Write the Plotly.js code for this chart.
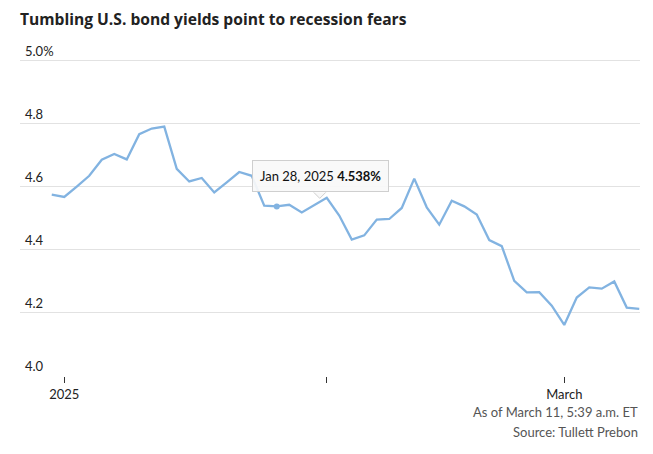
<!DOCTYPE html>
<html>
<head>
<meta charset="utf-8">
<script src="https://cdn.plot.ly/plotly-3.0.1.min.js"></script>
<style>
  html, body { margin: 0; padding: 0; background: #fff; }
  #chart { width: 653px; height: 454px; }
</style>
</head>
<body>
<div id="chart"></div>
<script>
// trading days, Dec 31 2024 .. Mar 11 2025
var dates = [
  'Dec 31', 'Jan 2', 'Jan 3', 'Jan 6', 'Jan 7', 'Jan 8', 'Jan 9', 'Jan 10',
  'Jan 13', 'Jan 14', 'Jan 15', 'Jan 16', 'Jan 17', 'Jan 21', 'Jan 22', 'Jan 23',
  'Jan 24', 'Jan 27', 'Jan 28', 'Jan 29', 'Jan 30', 'Jan 31', 'Feb 3', 'Feb 4',
  'Feb 5', 'Feb 6', 'Feb 7', 'Feb 10', 'Feb 11', 'Feb 12', 'Feb 13', 'Feb 14',
  'Feb 18', 'Feb 19', 'Feb 20', 'Feb 21', 'Feb 24', 'Feb 25', 'Feb 26', 'Feb 27',
  'Feb 28', 'Mar 3', 'Mar 4', 'Mar 5', 'Mar 6', 'Mar 7', 'Mar 10', 'Mar 11'
]
// 10-year yield, %
var yields = [
  4.575, 4.568, 4.601, 4.635, 4.686, 4.704, 4.687, 4.767,
  4.785, 4.791, 4.657, 4.617, 4.628, 4.582, 4.614, 4.647,
  4.635, 4.540, 4.538, 4.543, 4.519, 4.543, 4.565, 4.509,
  4.433, 4.446, 4.496, 4.498, 4.533, 4.626, 4.535, 4.480,
  4.556, 4.538, 4.512, 4.431, 4.412, 4.302, 4.265, 4.266,
  4.223, 4.162, 4.249, 4.281, 4.277, 4.300, 4.217, 4.213
]
var xTickVals = ['Jan 2', 'Feb 3', 'Mar 3']
var xTickText = ['2025', '', 'March']
var yTickVals = [4.0, 4.2, 4.4, 4.6, 4.8, 5.0]
var yTickText = ['4.0', '4.2', '4.4', '4.6', '4.8', '5.0%']

var hoverIdx = dates.indexOf('Jan 28')
var lineColor = '#82b3e1'

var trace1 = {
  type: 'scatter',
  mode: 'lines',
  x: dates,
  y: yields,
  line: { color: lineColor, width: 2.3 },
  hoverinfo: 'skip'
}

var trace2 = {
  type: 'scatter',
  mode: 'markers',
  x: [dates[hoverIdx]],
  y: [yields[hoverIdx]],
  marker: { color: lineColor, size: 6 },
  hoverinfo: 'skip'
}

var layout = {
  width: 653,
  height: 454,
  margin: { l: 20, r: 13, t: 40, b: 78 },
  paper_bgcolor: '#fff',
  plot_bgcolor: '#fff',
  showlegend: false,
  font: { family: 'Lato, sans-serif', size: 13, color: '#222' },
  title: {
    text: 'Tumbling U.S. bond yields point to recession fears',
    font: { family: 'Open Sans, sans-serif', size: 15.6, color: '#222', weight: 700 },
    x: 20 / 653,
    xanchor: 'left',
    y: 1 - 20 / 454,
    yanchor: 'middle'
  },
  xaxis: {
    type: 'category',
    range: [-2.54, 47.06],
    tickmode: 'array',
    tickvals: xTickVals,
    ticktext: xTickText,
    ticks: 'outside',
    ticklen: 6,
    tickcolor: '#333',
    tickwidth: 1,
    showgrid: false,
    showline: false,
    zeroline: false,
    tickfont: { family: 'Lato, sans-serif', size: 13, color: '#222' }
  },
  yaxis: {
    range: [4.0, 5.0657],
    tickmode: 'array',
    tickvals: yTickVals,
    ticktext: yTickText,
    ticklabelposition: 'inside top',
    ticklabelstandoff: 2,
    showgrid: true,
    gridcolor: '#e2e2e2',
    gridwidth: 1,
    zeroline: false,
    showline: false,
    ticks: '',
    tickfont: { family: 'Lato, sans-serif', size: 13, color: '#222' }
  },
  annotations: [
    {
      xref: 'x',
      yref: 'y',
      x: dates[hoverIdx],
      y: yields[hoverIdx],
      xshift: 43.5,
      yshift: 30,
      xanchor: 'center',
      yanchor: 'middle',
      showarrow: false,
      text: dates[hoverIdx] + ', 2025 <b>' + yields[hoverIdx].toFixed(3) + '%</b>',
      font: { family: 'Lato, sans-serif', size: 13, color: '#111' },
      bgcolor: 'rgba(248,248,248,0.92)',
      bordercolor: '#cfcfcf',
      borderwidth: 1,
      borderpad: 7
    },
    {
      xref: 'paper',
      yref: 'paper',
      x: 1,
      y: -0.106,
      xanchor: 'right',
      yanchor: 'middle',
      showarrow: false,
      text: 'As of March 11, 5:39 a.m. ET',
      font: { family: 'Lato, sans-serif', size: 13, color: '#555' }
    },
    {
      xref: 'paper',
      yref: 'paper',
      x: 1,
      y: -0.166,
      xanchor: 'right',
      yanchor: 'middle',
      showarrow: false,
      text: 'Source: Tullett Prebon',
      font: { family: 'Lato, sans-serif', size: 13, color: '#555' }
    }
  ],
  shapes: [
    {
      type: 'path',
      xref: 'x',
      yref: 'y',
      xsizemode: 'pixel',
      ysizemode: 'pixel',
      xanchor: dates[hoverIdx],
      yanchor: yields[hoverIdx],
      path: 'M 37,14 L 43,8 L 49,14',
      fillcolor: 'rgba(248,248,248,1)',
      line: { color: '#cfcfcf', width: 1 },
      layer: 'above'
    }
  ]
}

Plotly.newPlot('chart', [trace1, trace2], layout, { displayModeBar: false, staticPlot: true })
</script>
</body>
</html>
